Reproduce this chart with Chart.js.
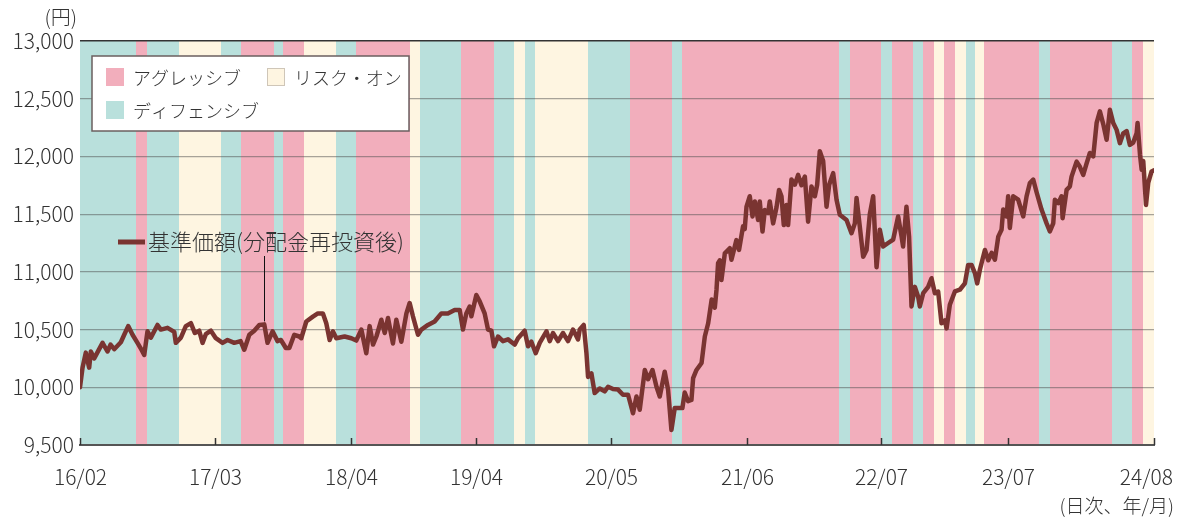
<!DOCTYPE html>
<html lang="ja">
<head>
<meta charset="utf-8">
<title>基準価額の推移</title>
<script src="https://cdn.jsdelivr.net/npm/chart.js@4.4.1/dist/chart.umd.min.js"></script>
<style>
  html, body { margin: 0; padding: 0; background: #fff; }
  #wrap { position: relative; width: 1178px; height: 517px; }
</style>
</head>
<body>
<div id="wrap"><canvas id="navChart"></canvas></div>
<script>
// x = months elapsed since 2016/02 (daily series, position on the time axis)
const months = [
  0, 0.24, 0.55, 0.87, 1.03, 1.35, 2.14, 2.61, 2.90, 3.25, 3.88, 4.20, 4.58, 4.99, 5.46, 5.75,
  6.10, 6.41, 6.73, 7.36, 7.68, 8.31, 8.95, 9.10, 9.58, 10.05, 10.53, 10.91, 11.32, 11.64, 11.95,
  12.43, 12.90, 13.54, 14.01, 14.65, 15.25, 15.60, 16.08, 16.55, 17.03, 17.50, 17.81, 18.29, 18.76,
  19.08, 19.55, 19.88, 20.35, 20.83, 21.02, 21.49, 22.12, 22.59, 23.07, 23.39, 23.71, 24.02, 24.34,
  25.13, 25.77, 26.24, 26.72, 27.19, 27.51, 27.83, 28.15, 28.62, 28.94, 29.25, 29.72, 30.04, 30.52,
  31.00, 31.31, 31.62, 32.10, 32.42, 33.05, 33.68, 34.32, 34.94, 35.58, 36.06, 36.37, 36.69, 37.01,
  37.17, 37.64, 37.96, 38.43, 38.75, 39.07, 39.32, 39.70, 40.17, 40.65, 41.28, 41.60, 42.23, 42.55,
  42.87, 43.28, 43.66, 44.30, 44.61, 44.92, 45.40, 45.87, 46.35, 46.82, 47.30, 47.46, 47.84, 48.10,
  48.25, 48.57, 48.88, 49.36, 49.83, 50.15, 50.62, 51.10, 51.57, 52.05, 52.52, 52.85, 53.16, 53.64,
  53.95, 54.37, 54.75, 55.06, 55.53, 55.85, 56.17, 56.48, 56.96, 57.21, 57.43, 57.75, 58.07, 58.23,
  58.55, 59.03, 59.34, 59.66, 59.99, 60.29, 60.45, 60.60, 60.76, 60.92, 61.24, 61.71, 61.87, 62.34,
  62.59, 62.97, 63.13, 63.30, 63.61, 63.87, 64.09, 64.40, 64.56, 64.82, 65.04, 65.35, 65.51, 65.83,
  66.15, 66.39, 66.62, 66.84, 67.10, 67.25, 67.57, 67.89, 68.20, 68.52, 68.84, 69.15, 69.47, 69.79,
  70.01, 70.26, 70.58, 70.90, 71.15, 71.53, 71.85, 72.16, 72.80, 73.27, 73.59, 73.75, 74.06, 74.38,
  74.70, 75.01, 75.33, 75.65, 75.96, 76.28, 76.75, 77.23, 77.70, 78.02, 78.17, 78.49, 78.74, 78.97,
  79.29, 79.60, 79.76, 80.08, 80.55, 80.87, 81.19, 81.50, 81.82, 82.14, 82.30, 82.61, 83.09, 83.56,
  84.04, 84.35, 84.67, 84.99, 85.21, 85.47, 85.94, 86.26, 86.58, 86.89, 87.21, 87.52, 87.68, 88.00,
  88.15, 88.31, 88.63, 89.10, 89.58, 89.90, 90.21, 90.53, 90.85, 91.32, 91.80, 92.11, 92.43, 92.59,
  92.91, 93.22, 93.32, 93.70, 94.01, 94.17, 94.65, 94.96, 95.28, 95.60, 95.91, 96.23, 96.55, 96.86,
  97.18, 97.50, 97.81, 98.13, 98.45, 98.76, 99.08, 99.40, 99.71, 100.03, 100.35, 100.44, 100.67,
  100.83, 100.98, 101.24, 101.45, 101.77, 102.00
];

// 基準価額(分配金再投資後), yen
const nav = [
  10000, 10170, 10300, 10170, 10310, 10250, 10385, 10310, 10370, 10330, 10390, 10455, 10530, 10455, 10385, 10340,
  10280, 10485, 10430, 10540, 10500, 10515, 10480, 10385, 10430, 10530, 10555, 10470, 10490, 10385, 10460,
  10490, 10425, 10385, 10410, 10385, 10400, 10325, 10455, 10490, 10540, 10545, 10385, 10485, 10400,
  10410, 10340, 10340, 10455, 10440, 10425, 10570, 10612, 10640, 10640, 10555, 10410, 10485, 10425,
  10440, 10425, 10405, 10500, 10295, 10530, 10370, 10440, 10585, 10470, 10600, 10380, 10585, 10395,
  10640, 10730, 10615, 10455, 10500, 10540, 10570, 10640, 10640, 10670, 10670, 10500, 10640, 10700,
  10615, 10800, 10745, 10640, 10500, 10490, 10355, 10440, 10400, 10415, 10370, 10425, 10490, 10355,
  10395, 10295, 10385, 10485, 10400, 10470, 10400, 10470, 10400, 10500, 10415, 10500, 10540, 10295,
  10090, 10120, 9950, 9990, 9965, 10005, 9985, 9980, 9935, 9935, 9775, 9920, 9805, 10150,
  10070, 10150, 10005, 9920, 10135, 9980, 9630, 9820, 9820, 9820, 9955, 9880, 9890, 10080,
  10150, 10210, 10440, 10555, 10760, 10690, 10845, 11075, 11100, 10930, 11160, 11205, 11105, 11275,
  11190, 11395, 11370, 11565, 11655, 11480, 11610, 11450, 11610, 11350, 11535, 11510, 11610, 11420,
  11560, 11710, 11655, 11405, 11580, 11405, 11800, 11755, 11840, 11750, 11825, 11435, 11740, 11655,
  11755, 12045, 11960, 11565, 11755, 11855, 11625, 11495, 11450, 11335, 11420, 11640, 11390, 11130,
  11190, 11500, 11655, 11040, 11365, 11220, 11250, 11280, 11480, 11310, 11220, 11565, 11305, 10700,
  10870, 10785, 10700, 10815, 10870, 10945, 10815, 10830, 10555, 10580, 10510, 10715, 10830, 10845,
  10900, 11060, 11060, 10990, 10900, 11020, 11190, 11100, 11165, 11105, 11305, 11365, 11540, 11480,
  11655, 11380, 11655, 11625, 11480, 11655, 11770, 11800, 11690, 11540, 11420, 11350, 11420, 11625,
  11595, 11655, 11465, 11710, 11740, 11825, 11955, 11910, 11840, 11940, 12030, 12000, 12290, 12390,
  12280, 12145, 12405, 12290, 12230, 12115, 12200, 12220, 12100, 12120, 12200, 12290, 12015,
  11885, 11960, 11580, 11770, 11870, 11880
];

// regime periods: start month and type (A = アグレッシブ, D = ディフェンシブ, R = リスク・オン)
const bandStarts = [
  0, 5.3, 6.4, 9.4, 13.4, 15.3, 18.4, 19.3, 21.3, 24.3,
  26.2, 31.3, 32.3, 36.2, 39.3, 41.2, 42.3, 43.2, 48.2, 52.2,
  56.2, 57.2, 72.1, 73.1, 76.1, 77.1, 79.1, 80.1, 81.1, 82.1,
  83.1, 84.1, 85.0, 85.9, 91.1, 92.1, 98.0, 99.9, 101.0
];
const bandTypes = [
  'D', 'A', 'D', 'R', 'D', 'A', 'D', 'A', 'R', 'D',
  'A', 'R', 'D', 'A', 'D', 'R', 'D', 'R', 'D', 'A',
  'D', 'A', 'D', 'A', 'D', 'A', 'D', 'A', 'R', 'A',
  'R', 'D', 'R', 'A', 'D', 'A', 'D', 'A', 'R'
];

const tickPos = [0, 12.85, 25.7, 37.6, 50.4, 63.3, 76.05, 88.1, 102];
const tickLabels = ['16/02', '17/03', '18/04', '19/04', '20/05', '21/06', '22/07', '23/07', '24/08'];

const regimeColors = { A: '#F2AEBC', D: '#B9E0DC', R: '#FEF5E1' };
const lineColor = '#7A3431';
const textColor = '#333';
const FONT = "'Noto Sans CJK JP', 'Noto Sans', sans-serif";

// coloured regime periods behind everything
const regimeBands = {
  id: 'regimeBands',
  beforeDraw(chart) {
    const { ctx, chartArea: a, scales: { x } } = chart;
    ctx.save();
    bandStarts.forEach((s, i) => {
      const e = i + 1 < bandStarts.length ? bandStarts[i + 1] : x.max;
      const x0 = Math.round(x.getPixelForValue(s));
      const x1 = Math.round(x.getPixelForValue(e));
      ctx.fillStyle = regimeColors[bandTypes[i]];
      ctx.fillRect(x0, a.top, x1 - x0, a.bottom - a.top);
    });
    ctx.restore();
  }
};

// axis ticks / labels, legend box and series caption
const overlay = {
  id: 'overlay',
  afterDraw(chart) {
    const { ctx, chartArea: a, scales: { x, y } } = chart;
    ctx.save();

    // inward tick marks + date labels
    ctx.strokeStyle = '#333';
    ctx.lineWidth = 1.5;
    ctx.fillStyle = textColor;
    ctx.font = `300 21px ${FONT}`;
    ctx.textBaseline = 'middle';
    tickPos.forEach((v, i) => {
      const px = Math.round(x.getPixelForValue(v)) + 0.5;
      ctx.beginPath();
      ctx.moveTo(px, a.bottom);
      ctx.lineTo(px, a.bottom - 7);
      ctx.stroke();
      if (i === tickPos.length - 1) {
        ctx.textAlign = 'right';
        ctx.fillText(tickLabels[i], chart.width - 5, 477);
      } else {
        ctx.textAlign = 'center';
        ctx.fillText(tickLabels[i], px, 477);
      }
    });

    // units
    ctx.font = `300 20px ${FONT}`;
    ctx.textAlign = 'right';
    ctx.fillText('(円)', 77, 17);
    ctx.font = `300 19px ${FONT}`;
    ctx.fillText('(日次、年/月)', chart.width - 4, 506);

    // legend box
    ctx.fillStyle = '#fff';
    ctx.fillRect(92, 56, 317, 75);
    ctx.strokeStyle = '#6b5f5f';
    ctx.lineWidth = 1.5;
    ctx.strokeRect(92, 56, 317, 75);
    const items = [
      { t: 'A', label: 'アグレッシブ', x: 106, y: 68 },
      { t: 'R', label: 'リスク・オン', x: 267, y: 68 },
      { t: 'D', label: 'ディフェンシブ', x: 106, y: 101 }
    ];
    ctx.font = `300 18px ${FONT}`;
    ctx.textAlign = 'left';
    items.forEach(it => {
      ctx.fillStyle = regimeColors[it.t];
      ctx.fillRect(it.x, it.y, 18, 18);
      if (it.t === 'R') {
        ctx.strokeStyle = '#cfc6b8';
        ctx.lineWidth = 1;
        ctx.strokeRect(it.x + 0.5, it.y + 0.5, 17, 17);
      }
      ctx.fillStyle = textColor;
      ctx.fillText(it.label, it.x + 27, it.y + 10);
    });

    // series caption with leader line
    ctx.strokeStyle = lineColor;
    ctx.lineWidth = 5;
    ctx.beginPath();
    ctx.moveTo(118, 242);
    ctx.lineTo(145, 242);
    ctx.stroke();
    ctx.fillStyle = textColor;
    ctx.font = `300 22px ${FONT}`;
    ctx.fillText('基準価額(分配金再投資後)', 148, 242);

    const lx = Math.round(x.getPixelForValue(17.5)) + 0.5;
    ctx.strokeStyle = '#111';
    ctx.lineWidth = 1;
    ctx.beginPath();
    ctx.moveTo(lx, 256);
    ctx.lineTo(lx, y.getPixelForValue(10545) - 3);
    ctx.stroke();

    ctx.restore();
  }
};

const points = months.map((m, i) => ({ x: m, y: nav[i] }));

new Chart(document.getElementById('navChart'), {
  type: 'line',
  data: {
    datasets: [{
      label: '基準価額(分配金再投資後)',
      data: points,
      borderColor: lineColor,
      borderWidth: 4.5,
      pointRadius: 0,
      tension: 0,
      borderJoinStyle: 'round',
      borderCapStyle: 'round',
      fill: false
    }]
  },
  options: {
    responsive: true,
    maintainAspectRatio: false,
    animation: false,
    devicePixelRatio: 1,
    layout: { padding: { top: 41, right: 24, left: 0, bottom: 0 } },
    plugins: {
      legend: { display: false },
      tooltip: { enabled: false }
    },
    scales: {
      x: {
        type: 'linear',
        min: 0,
        max: 102,
        afterBuildTicks: s => { s.ticks = tickPos.map(v => ({ value: v })); },
        afterFit: s => { s.height = 72; s.paddingLeft = 0; s.paddingRight = 0; },
        ticks: { display: false },
        grid: { display: false },
        border: { display: true, color: '#555', width: 2 }
      },
      y: {
        min: 9500,
        max: 13000,
        afterFit: s => { s.width = 80; },
        ticks: {
          stepSize: 500,
          padding: 6,
          color: textColor,
          font: { family: FONT, size: 21, weight: 300 },
          callback: v => v.toLocaleString('en-US')
        },
        grid: {
          drawTicks: false,
          color: c => c.tick && c.tick.value === 13000 ? '#333' : 'rgba(80,80,80,0.5)',
          lineWidth: c => c.tick && c.tick.value === 13000 ? 1.6 : 1.2
        },
        border: { display: false }
      }
    }
  },
  plugins: [regimeBands, overlay]
});
</script>
</body>
</html>
